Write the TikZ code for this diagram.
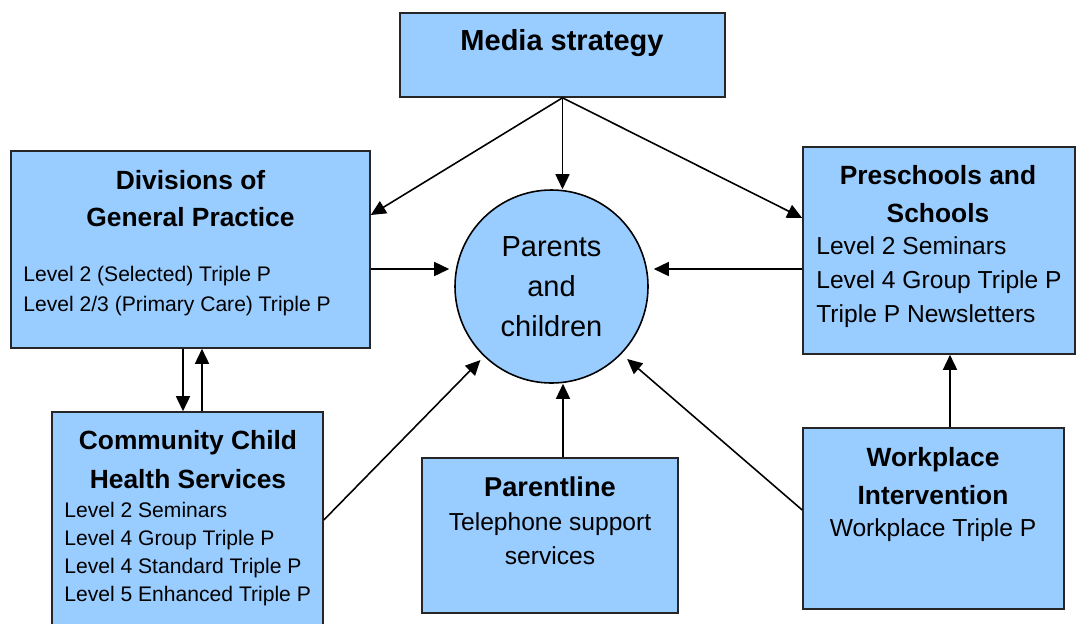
\documentclass[tikz,border=0pt]{standalone}
\usepackage{fontspec}
\setmainfont{Liberation Sans}
\usetikzlibrary{arrows.meta}
\definecolor{boxblue}{RGB}{153,204,255}
\tikzset{
  box/.style={rectangle, draw=black!85, line width=0.9pt, fill=boxblue},
  head/.style={inner sep=0pt, align=center, font=\bfseries\fontsize{15}{21.5}\selectfont},
  body/.style={inner sep=0pt, align=left, anchor=west},
  arr/.style={-{Triangle[length=0.3cm,width=0.28cm]}, line width=0.9pt}
}
\begin{document}
\begin{tikzpicture}
            \useasboundingbox (0,0) rectangle (21.54,-12.46);

            %riquadri
            \node[box, minimum width=6.5cm, minimum height=1.68cm] (media) at (11.25,-1.1) {};
            \node[box, minimum width=7.18cm, minimum height=3.94cm] (div) at (3.81,-4.99) {};
            \node[box, minimum width=5.44cm, minimum height=4.14cm] (pre) at (18.78,-5.01) {};
            \node[box, minimum width=5.42cm, minimum height=4.56cm] (com) at (3.75,-10.52) {};
            \node[box, minimum width=5.12cm, minimum height=3.1cm] (par) at (11.0,-10.71) {};
            \node[box, minimum width=5.22cm, minimum height=3.62cm] (wp) at (18.67,-10.37) {};

            %cerchio al centro
            \node[circle, draw=black, line width=0.9pt, fill=boxblue, minimum size=3.86cm,
                  align=center, font=\fontsize{16.5}{22.7}\selectfont] (circ) at (11.03,-5.73) {Parents\\and\\children};

            %titoli
            \node[head, font=\bfseries\fontsize{16.5}{21.5}\selectfont] (mediaT) at (11.24,-0.86) {Media strategy};
            \node[head] (divT) at (3.81,-3.97) {Divisions of\\General Practice};
            \node[head] (preT) at (18.76,-3.88) {Preschools and\\Schools};
            \node[head, font=\bfseries\fontsize{15}{22}\selectfont] (comT) at (3.76,-9.19) {Community Child\\Health Services};
            \node[head] (wpT) at (18.66,-9.52) {Workplace\\Intervention};

            %testi dei programmi
            \node[body, font=\fontsize{12}{17}\selectfont] (divL) at (0.46,-5.82)
              {Level 2 (Selected) Triple P\\Level 2/3 (Primary Care) Triple P};
            \node[body, font=\fontsize{14}{19.3}\selectfont] (preL) at (16.32,-5.64)
              {Level 2 Seminars\\Level 4 Group Triple P\\Triple P Newsletters};
            \node[body, font=\fontsize{12}{15.9}\selectfont] (comL) at (1.28,-11.08)
              {Level 2 Seminars\\Level 4 Group Triple P\\Level 4 Standard Triple P\\Level 5 Enhanced Triple P};
            \node[inner sep=0pt, align=center, font=\fontsize{14}{19.3}\selectfont] (parT) at (11.0,-10.42)
              {{\bfseries\fontsize{15.5}{19.3}\selectfont Parentline}\\Telephone support\\services};
            \node[inner sep=0pt, font=\fontsize{14}{19.3}\selectfont] (wpL) at (18.66,-10.6) {Workplace Triple P};

            %frecce
            \draw[arr] (media.south) -- (media.south |- circ.north);
            \draw[arr] (media.south) -- ([yshift=0.69cm]div.east);
            \draw[arr] (media.south) -- ([yshift=0.65cm]pre.west);
            \draw[arr, shorten >=0.1cm] ([yshift=-0.39cm]div.east) -- ([yshift=-0.39cm]div.east -| circ.west);
            \draw[arr, shorten >=0.1cm] ([yshift=-0.37cm]pre.west) -- ([yshift=-0.37cm]pre.west -| circ.east);
            \draw[arr] ([xshift=-0.15cm]div.south) -- ([xshift=-0.15cm]div.south |- com.north);
            \draw[arr] ([xshift=0.23cm]div.south |- com.north) -- ([xshift=0.23cm]div.south);
            \draw[arr, shorten >=0.1cm] ([yshift=0.12cm]com.east) -- (circ.226);
            \draw[arr] ([xshift=0.26cm]par.north) -- ([xshift=0.26cm]par.north |- circ.south);
            \draw[arr, shorten >=0.15cm] ([yshift=0.17cm]wp.west) -- (circ.316);
            \draw[arr] ([xshift=0.33cm]wp.north) -- ([xshift=0.33cm]wp.north |- pre.south);

        \end{tikzpicture}
\end{document}
